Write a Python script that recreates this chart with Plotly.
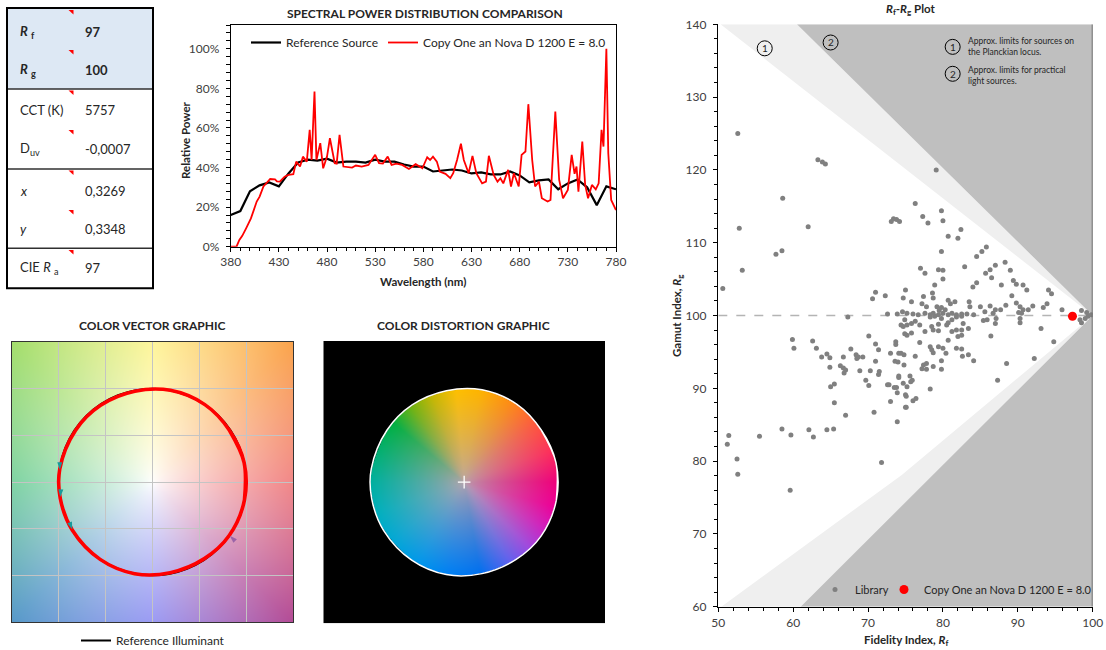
import base64
import struct
import zlib

import numpy as np
import plotly.graph_objects as go

W, H = 1106, 650
FONT = "Lato, 'Open Sans', sans-serif"
TXT = "#262626"

# ----------------------------------------------------------------- data
# Spectral power distribution (percent of max)
ref_wl = list(range(380, 781, 10))
ref_pw = [16, 18, 28, 31, 32.5, 30.5, 37, 42.5, 44, 43.5, 44.5, 42.5, 43, 43,
          42.5, 44, 43, 43, 41.5, 40.5, 40.5, 38, 38.5, 39, 38.5, 37, 37.5,
          36.5, 36.5, 38, 36, 32.5, 33.5, 34, 29, 32, 34, 30, 21, 30.5, 29]

test_wl = [380, 386, 389, 392, 396, 401, 407, 410, 414, 417, 421, 426, 428, 431,
           436, 440, 445, 448, 452, 455, 459, 462, 464, 467, 469, 473, 476, 480,
           483, 486, 488, 490, 493, 497, 506, 510, 516, 523, 530, 534, 538, 543,
           547, 552, 558, 565, 572, 579, 584, 587, 590, 594, 597, 603, 608, 611,
           615, 619, 622, 627, 631, 635, 641, 645, 648, 653, 657, 660, 663, 668,
           671, 674, 679, 682, 686, 689, 693, 696, 700, 703, 709, 712, 717, 721,
           725, 730, 734, 737, 739, 741, 745, 748, 751, 755, 759, 762, 765, 767,
           770, 772, 775, 780]
test_pw = [0, 0, 3.4, 5.5, 9.3, 14.3, 22.8, 25.3, 30.4, 32, 34.2, 34, 33, 32.9,
           35.4, 36.3, 36.6, 43, 40.5, 45.5, 43, 59, 43.8, 78.4, 43.8, 52.3, 39.6,
           45.5, 54.8, 47.2, 42.2, 42, 56.5, 40.5, 40, 41, 40.5, 41.3, 46.4, 42.2,
           42, 45.5, 41.3, 42, 41.3, 39.3, 41.7, 39.6, 45.2, 43.8, 45.5, 43, 38,
           36.8, 34.6, 37.1, 43.8, 52, 43.8, 37.1, 45.9, 37.1, 32, 32.9, 45.9,
           36.3, 32.9, 34.6, 32, 38.8, 30.4, 37.1, 30.4, 46.4, 48.1, 72, 43.8,
           30.4, 32.9, 24.5, 22.8, 23.6, 68.3, 33.7, 24.5, 28.7, 46.4, 36.8, 40.5,
           27.8, 53.1, 31.2, 24.5, 31.2, 29, 32, 59, 50.6, 100, 47.2, 23.6, 18.5]

spd_x_ticks = [380, 430, 480, 530, 580, 630, 680, 730, 780]

# Summary table
table_labels = ["<b><i>R</i> <sub>f</sub></b>", "<b><i>R</i> <sub>g</sub></b>",
                "CCT (K)", "D<sub>uv</sub>", "<i>x</i>", "<i>y</i>",
                "CIE <i>R</i> <sub>a</sub>"]
table_values = ["<b>97</b>", "<b>100</b>", "5757", "-0,0007", "0,3269",
                "0,3348", "97"]

# Colour vector graphic: normalised test-source chroma per hue bin (16 bins)
test_x = [0.978, 0.821, 0.559, 0.191, -0.189, -0.554, -0.821, -0.990,
          -0.985, -0.857, -0.559, -0.191, 0.189, 0.554, 0.819, 0.982]
test_y = [0.208, 0.554, 0.829, 0.982, 0.972, 0.821, 0.554, 0.139,
          -0.174, -0.515, -0.829, -0.982, -0.972, -0.821, -0.574, -0.191]
ref_radius = 1.0
arrow_x = [-0.99, -0.985, -0.857, 0.825]
arrow_y = [0.13, -0.16, -0.51, -0.575]
arrow_angle = [180, 185, 160, 315]
cvg_center = (0.0, 0.0)

# Rf-Rg plot
lib_pts_left = [
    (52.6, 125.0), (63.3, 121.4), (63.9, 121.1), (64.3, 120.8), (58.6, 116.1),
    (52.8, 112.0), (62.0, 112.2), (57.7, 108.4), (58.5, 108.9), (53.2, 106.2),
    (50.6, 103.7), (73.1, 112.9), (73.4, 113.3), (73.8, 113.2), (74.2, 112.9),
    (70.6, 102.3), (71.0, 103.2), (72.3, 102.7), (74.7, 102.4), (75.0, 103.5),
    (67.3, 99.8), (72.6, 100.2), (73.9, 100.2), (74.6, 100.5), (74.9, 99.4),
    (74.4, 98.7), (74.7, 98.5), (74.9, 97.5), (59.9, 96.7), (60.1, 95.5),
    (62.6, 96.5), (63.1, 95.5), (63.8, 94.3), (64.5, 94.7), (64.9, 94.2),
    (64.9, 92.9), (66.3, 93.1), (66.7, 92.8), (67.0, 92.5), (66.7, 94.3),
    (67.7, 95.4), (68.4, 94.6), (68.7, 94.3), (68.5, 94.1), (69.3, 94.3),
    (66.8, 92.1), (68.9, 92.4), (70.1, 97.2), (71.0, 96.1), (71.4, 95.3),
    (71.0, 93.7), (70.3, 92.4), (71.5, 92.3), (71.4, 91.9), (69.7, 91.1),
    (70.1, 90.4), (73.0, 94.8), (73.7, 96.4), (73.7, 96.0), (74.1, 94.8),
    (74.4, 94.8), (73.6, 93.7), (74.0, 93.6), (74.8, 94.6), (74.8, 93.2),
    (74.1, 91.7), (74.1, 91.5), (74.7, 90.7), (72.6, 90.5), (72.8, 90.5),
    (73.5, 90.1), (73.8, 90.1), (73.9, 89.4), (75.0, 89.1), (65.0, 90.2),
    (65.5, 90.6), (65.5, 88.0), (73.0, 88.2), (75.0, 87.4), (67.0, 86.3),
    (70.8, 86.7), (73.9, 85.4), (51.4, 83.5), (51.2, 82.3), (55.5, 83.4),
    (58.5, 84.4), (59.7, 83.6), (62.1, 84.3), (62.7, 83.3), (64.5, 84.3),
    (65.4, 84.4), (52.5, 80.3), (71.8, 79.8), (52.6, 78.2), (59.6, 76.0)]
lib_pts_upper = [
    (79.1, 120.0), (76.3, 115.4), (79.8, 114.4), (77.3, 113.6), (78.0, 112.7),
    (80.0, 113.0), (80.7, 110.9), (82.0, 110.6), (82.4, 111.8), (79.8, 108.8),
    (84.5, 108.1), (85.2, 108.8), (85.8, 109.4), (82.9, 106.7), (77.0, 106.5),
    (79.4, 106.3), (80.0, 106.2), (77.6, 105.8), (86.3, 106.3), (87.0, 106.9),
    (85.7, 105.8), (88.3, 107.3), (89.0, 106.2), (86.5, 105.2), (80.0, 105.0),
    (78.9, 104.2), (84.5, 104.5), (84.0, 103.9), (87.8, 104.2), (89.4, 104.8),
    (89.8, 104.3), (90.7, 104.2), (91.2, 103.5), (94.1, 103.5), (94.5, 103.0),
    (89.2, 102.7), (77.4, 102.6), (78.6, 103.1), (78.7, 102.4), (75.8, 101.9),
    (77.2, 101.6), (77.8, 101.2), (80.7, 102.1), (81.0, 101.6), (81.6, 101.9),
    (79.2, 101.2), (79.8, 101.1), (79.5, 100.7), (80.3, 100.8), (83.5, 101.9),
    (83.6, 101.2), (85.0, 101.2), (86.3, 101.3), (87.0, 100.8), (86.7, 100.3),
    (88.4, 101.4), (87.7, 100.8), (89.8, 101.7), (90.3, 101.2), (90.7, 100.8),
    (91.4, 100.8), (90.1, 100.4), (92.0, 101.3), (93.4, 101.1), (93.9, 101.6),
    (95.9, 100.8), (98.5, 100.7), (99.2, 100.4), (75.2, 100.3), (76.0, 100.2),
    (76.7, 100.1), (77.6, 100.3), (78.3, 100.1), (78.7, 100.3), (79.4, 100.1),
    (80.0, 100.3), (80.7, 100.1), (81.2, 100.3), (81.8, 100.1), (82.5, 100.2),
    (83.2, 100.2), (84.1, 100.1), (85.6, 100.5), (90.5, 100.3), (98.3, 99.4),
    (99.0, 99.6), (99.4, 99.9), (99.8, 100.1)]
lib_pts_lower = [
    (75.8, 98.9), (76.3, 99.2), (75.2, 98.7), (76.9, 98.7), (78.3, 99.8),
    (78.9, 99.9), (79.4, 98.8), (80.5, 98.7), (80.7, 99.0), (79.8, 99.6),
    (81.2, 99.4), (81.8, 99.8), (82.5, 99.9), (82.7, 98.9), (77.6, 97.8),
    (78.5, 98.5), (78.7, 98.0), (79.4, 97.9), (81.2, 97.8), (81.8, 98.0),
    (82.5, 98.0), (83.4, 98.2), (82.0, 97.1), (82.5, 97.3), (80.7, 96.6),
    (85.4, 99.3), (85.9, 99.4), (87.1, 99.6), (87.0, 98.9), (90.3, 99.6),
    (90.3, 99.0), (86.4, 97.2), (93.1, 98.2), (94.8, 96.4), (98.5, 99.0),
    (75.2, 97.3), (75.8, 97.6), (76.9, 96.3), (76.3, 94.4), (78.3, 95.7),
    (78.5, 95.3), (78.7, 94.9), (79.4, 95.7), (80.0, 95.5), (80.4, 94.8),
    (79.8, 93.8), (81.8, 95.5), (82.5, 95.4), (82.6, 94.4), (83.4, 94.6),
    (84.1, 93.8), (88.5, 93.4), (92.2, 94.1), (77.4, 93.2), (77.8, 93.4),
    (77.2, 92.7), (77.8, 92.6), (78.7, 93.0), (79.8, 92.6), (78.3, 89.9),
    (75.6, 91.7), (75.7, 90.9), (75.9, 91.1), (75.2, 90.2), (75.1, 88.9),
    (76.0, 88.3), (76.4, 88.6), (75.1, 87.4), (87.3, 91.1)]
test_rf = [97.3]
test_rg = [99.9]

# Approximate limit lines (Rf, Rg)
lim1_upper = [(50.3, 140.0), (100.0, 100.0)]
lim1_lower = [(50.4, 60.0), (74.5, 78.1), (100.0, 100.0)]
lim2_upper = [(60.5, 140.0), (100.0, 100.0)]
lim2_lower = [(61.0, 60.0), (100.0, 100.0)]
rf_range = [50, 100]
rg_range = [60, 140]

# ------------------------------------------------------------ helpers
def px(x):
    return x / W


def py(y):
    return 1 - y / H


def png_data_uri(rgb):
    rgb = np.ascontiguousarray(np.clip(rgb, 0, 255).astype(np.uint8))
    h, w, _ = rgb.shape
    raw = b"".join(b"\x00" + rgb[i].tobytes() for i in range(h))

    def chunk(tag, data):
        return (struct.pack(">I", len(data)) + tag + data +
                struct.pack(">I", zlib.crc32(tag + data) & 0xFFFFFFFF))

    png = (b"\x89PNG\r\n\x1a\n" +
           chunk(b"IHDR", struct.pack(">IIBBBBB", w, h, 8, 2, 0, 0, 0)) +
           chunk(b"IDAT", zlib.compress(raw, 9)) + chunk(b"IEND", b""))
    return "data:image/png;base64," + base64.b64encode(png).decode("ascii")


def hue_map(theta, angles, colors):
    colors = np.array(colors, dtype=float)
    out = np.zeros(theta.shape + (3,))
    for c in range(3):
        out[..., c] = np.interp(theta, angles, colors[:, c])
    return out


def closed_catmull_rom_outline(xv, yv, steps=24):
    """Rendering helper for the image mask (same curve plotly draws with
    spline smoothing = 1)."""
    P = np.column_stack([xv, yv])
    n = len(P)
    out = []
    tt = np.linspace(0, 1, steps, endpoint=False)[:, None]
    for i in range(n):
        p0, p1, p2, p3 = P[i - 1], P[i], P[(i + 1) % n], P[(i + 2) % n]
        c1 = p1 + (p2 - p0) / 6.0
        c2 = p2 - (p3 - p1) / 6.0
        seg = ((1 - tt) ** 3 * p1 + 3 * (1 - tt) ** 2 * tt * c1 +
               3 * (1 - tt) * tt ** 2 * c2 + tt ** 3 * p2)
        out.append(seg)
    out = np.vstack(out)
    return out[:, 0], out[:, 1]


def inside_polygon(xv, yv, X, Y):
    res = np.zeros(X.shape, dtype=bool)
    n = len(xv)
    j = n - 1
    for i in range(n):
        xi, yi, xj, yj = xv[i], yv[i], xv[j], yv[j]
        cond = ((yi > Y) != (yj > Y)) & (
            X < (xj - xi) * (Y - yi) / (yj - yi + 1e-12) + xi)
        res ^= cond
        j = i
    return res


# ------------------------------------------------------ background images
NPIX = 282
grid = np.linspace(-1.5, 1.5, NPIX)
GX, GY = np.meshgrid(grid, grid[::-1])
GR = np.hypot(GX, GY)
GTH = np.degrees(np.arctan2(GY, GX)) % 360

cvg_ang = [0, 45, 90, 135, 180, 225, 270, 315, 360]
cvg_rgb = [(242, 136, 136), (252, 186, 120), (255, 246, 156), (186, 230, 144),
           (128, 212, 164), (128, 178, 214), (156, 156, 244), (198, 120, 176),
           (242, 136, 136)]
base = hue_map(GTH, cvg_ang, cvg_rgb)
t = ((GR / 1.5) ** 0.8)[..., None]
cvg_img = 255 + (base - 255) * t
cvg_uri = png_data_uri(cvg_img)

dst_ang = [0, 20, 40, 60, 80, 95, 110, 125, 140, 160, 180, 200, 220, 240, 260,
           280, 300, 315, 330, 345, 360]
dst_rgb = [(240, 0, 124), (255, 47, 90), (255, 90, 60), (255, 140, 20),
           (255, 180, 0), (255, 192, 0), (200, 184, 0), (112, 180, 16),
           (0, 176, 64), (0, 176, 112), (0, 176, 160), (0, 176, 192),
           (0, 168, 216), (0, 152, 236), (0, 128, 244), (0, 112, 240),
           (96, 96, 240), (160, 72, 224), (208, 32, 192), (238, 0, 152),
           (240, 0, 124)]
center_rgb = np.array([184, 164, 172], dtype=float)
dbase = hue_map(GTH, dst_ang, dst_rgb)
dt = (np.clip(GR, 0, 1) ** 0.75)[..., None]
dst_col = center_rgb + (dbase - center_rgb) * dt
ox, oy = closed_catmull_rom_outline(test_x, test_y)
mask = inside_polygon(ox, oy, GX, GY)
dst_img = np.where(mask[..., None], dst_col, 0)
dst_uri = png_data_uri(dst_img)

# wrap-around sequence so plotly's spline closes smoothly
loop_x = [test_x[-1]] + test_x + test_x[:2]
loop_y = [test_y[-1]] + test_y + test_y[:2]

# ------------------------------------------------------------ figure
fig = go.Figure()

# SPD
fig.add_trace(go.Scatter(
    x=ref_wl, y=[v / 100 for v in ref_pw], mode="lines",
    line=dict(color="black", width=2.2), name="Reference Source",
    xaxis="x", yaxis="y", legend="legend", hoverinfo="skip"))
fig.add_trace(go.Scatter(
    x=test_wl, y=[v / 100 for v in test_pw], mode="lines",
    line=dict(color="#ff0000", width=1.8), name="Copy One an Nova D 1200 E = 8.0",
    xaxis="x", yaxis="y", legend="legend", hoverinfo="skip"))

# Colour vector graphic
fig.add_trace(go.Scatter(
    x=[None], y=[None], mode="lines", line=dict(color="black", width=2),
    name="Reference Illuminant", xaxis="x2", yaxis="y2", legend="legend2"))
fig.add_trace(go.Scatter(
    x=loop_x, y=loop_y, mode="lines",
    line=dict(color="#ff0000", width=3.6, shape="spline", smoothing=1),
    showlegend=False, xaxis="x2", yaxis="y2", hoverinfo="skip"))
fig.add_trace(go.Scatter(
    x=arrow_x, y=arrow_y, mode="markers",
    marker=dict(symbol="arrow", size=8, angle=arrow_angle,
                color=["#179a9a", "#179a9a", "#179a9a", "#9a64a8"]),
    showlegend=False, xaxis="x2", yaxis="y2", hoverinfo="skip"))

# Colour distortion graphic
fig.add_trace(go.Scatter(
    x=loop_x, y=loop_y, mode="lines",
    line=dict(color="white", width=1.5, shape="spline", smoothing=1),
    showlegend=False, xaxis="x3", yaxis="y3", hoverinfo="skip"))
fig.add_trace(go.Scatter(
    x=[cvg_center[0]], y=[cvg_center[1]], mode="markers",
    marker=dict(symbol="cross-thin", size=9, line=dict(color="white", width=1.3)),
    showlegend=False, xaxis="x3", yaxis="y3", hoverinfo="skip"))

# Rf-Rg regions
def band(inner, outer):
    xs = [p[0] for p in inner] + [p[0] for p in outer[::-1]]
    ys = [p[1] for p in inner] + [p[1] for p in outer[::-1]]
    return xs + [xs[0]], ys + [ys[0]]


lxu, lyu = band(lim1_upper, lim2_upper)
lxl, lyl = band(lim1_lower, lim2_lower)
fig.add_trace(go.Scatter(
    x=lxu + [None] + lxl, y=lyu + [None] + lyl, mode="lines",
    fill="toself", fillcolor="#efefef", line=dict(width=0, color="#efefef"),
    showlegend=False, xaxis="x4", yaxis="y4", hoverinfo="skip"))
dxu, dyu = band(lim2_upper, [(rf_range[1], rg_range[1])])
dxl, dyl = band(lim2_lower, [(rf_range[1], rg_range[0])])
fig.add_trace(go.Scatter(
    x=dxu + [None] + dxl, y=dyu + [None] + dyl, mode="lines",
    fill="toself", fillcolor="#bfbfbf", line=dict(width=0, color="#bfbfbf"),
    showlegend=False, xaxis="x4", yaxis="y4", hoverinfo="skip"))

lib_all = lib_pts_left + lib_pts_upper + lib_pts_lower
rf_lib = [p[0] for p in lib_all]
rg_lib = [p[1] for p in lib_all]
fig.add_trace(go.Scatter(
    x=rf_lib, y=rg_lib, mode="markers", name="Library",
    marker=dict(color="#808080", size=5), xaxis="x4", yaxis="y4",
    legend="legend3", hoverinfo="skip"))
fig.add_trace(go.Scatter(
    x=test_rf, y=test_rg, mode="markers", name="Copy One an Nova D 1200 E = 8.0",
    marker=dict(color="#ff0000", size=9), xaxis="x4", yaxis="y4",
    legend="legend4", hoverinfo="skip"))

# ------------------------------------------------------------ axes
tickfont = dict(family=FONT, size=12, color="#404040")
fig.update_layout(
    xaxis=dict(domain=[px(230.7), px(616)], anchor="y", range=[380, 780],
               tickvals=spd_x_ticks, showline=True, linecolor="black",
               linewidth=1, mirror=True, ticks="outside", ticklen=4,
               tickcolor="black", showgrid=False, zeroline=False,
               tickfont=tickfont,
               minor=dict(dtick=10, tick0=380, ticks="outside", ticklen=3,
                          tickcolor="black", showgrid=False)),
    yaxis=dict(domain=[py(246.7), py(25)], anchor="x", range=[0, 1.12],
               tickvals=[0, 0.2, 0.4, 0.6, 0.8, 1.0], tickformat=".0%",
               showline=True, linecolor="black", linewidth=1, mirror=True,
               ticks="outside", ticklen=4, tickcolor="black", showgrid=False,
               zeroline=False, tickfont=tickfont, ticklabelstandoff=4,
               minor=dict(dtick=0.04, tick0=0, ticks="outside", ticklen=4,
                          tickcolor="black", showgrid=False)),
    xaxis2=dict(domain=[px(12), px(293)], anchor="y2", range=[-1.5, 1.5],
                dtick=0.5, tick0=-1.5, showgrid=True, gridcolor="#c4c4c4",
                gridwidth=1, showticklabels=False, ticks="", zeroline=False,
                showline=True, linecolor="#333333", linewidth=1, mirror=True),
    yaxis2=dict(domain=[py(622), py(342)], anchor="x2", range=[-1.5, 1.5],
                dtick=0.5, tick0=-1.5, showgrid=True, gridcolor="#c4c4c4",
                gridwidth=1, showticklabels=False, ticks="", zeroline=False,
                showline=True, linecolor="#333333", linewidth=1, mirror=True),
    xaxis3=dict(domain=[px(323.3), px(605)], anchor="y3", range=[-1.5, 1.5],
                showgrid=False, showticklabels=False, ticks="", zeroline=False,
                showline=False),
    yaxis3=dict(domain=[py(623.3), py(341)], anchor="x3", range=[-1.5, 1.5],
                showgrid=False, showticklabels=False, ticks="", zeroline=False,
                showline=False),
    xaxis4=dict(domain=[px(718.3), px(1092.7)], anchor="y4", range=rf_range,
                dtick=10, showline=True, linecolor="black", linewidth=1.5,
                ticks="outside", ticklen=4, tickcolor="black", showgrid=False,
                zeroline=False, tickfont=tickfont,
                minor=dict(dtick=2, ticks="outside", ticklen=3,
                           tickcolor="black", showgrid=False)),
    yaxis4=dict(domain=[py(606.7), py(24.3)], anchor="x4", range=rg_range,
                dtick=10, showline=True, linecolor="black", linewidth=1.5,
                ticks="outside", ticklen=4, tickcolor="black", showgrid=False,
                zeroline=False, tickfont=tickfont, ticklabelstandoff=4,
                minor=dict(dtick=2, ticks="outside", ticklen=3,
                           tickcolor="black", showgrid=False)),
)

# ------------------------------------------------------------ legends
legfont = dict(family=FONT, size=12, color=TXT)
legfont_s = dict(family=FONT, size=11, color=TXT)
fig.update_layout(
    legend=dict(x=px(246), y=py(28), xanchor="left", yanchor="top",
                orientation="h", bgcolor="rgba(0,0,0,0)", font=legfont,
                itemwidth=30, tracegroupgap=0),
    legend2=dict(x=px(76), y=py(626), xanchor="left", yanchor="top",
                 orientation="h", bgcolor="rgba(0,0,0,0)", font=legfont,
                 itemwidth=30),
    legend3=dict(x=px(815), y=py(575), xanchor="left", yanchor="top",
                 orientation="h", bgcolor="rgba(0,0,0,0)", font=legfont_s,
                 itemwidth=30),
    legend4=dict(x=px(884), y=py(575), xanchor="left", yanchor="top",
                 orientation="h", bgcolor="rgba(0,0,0,0)", font=legfont_s,
                 itemwidth=30),
)

# ------------------------------------------------------------ images
fig.update_layout(images=[
    dict(source=cvg_uri, xref="x2", yref="y2", x=-1.5, y=1.5, sizex=3, sizey=3,
         sizing="stretch", xanchor="left", yanchor="top", layer="below"),
    dict(source=dst_uri, xref="x3", yref="y3", x=-1.5, y=1.5, sizex=3, sizey=3,
         sizing="stretch", xanchor="left", yanchor="top", layer="below"),
])

# ------------------------------------------------------------ shapes
shapes = []
# table
shapes.append(dict(type="rect", xref="paper", yref="paper", x0=px(7), x1=px(153),
                   y0=py(89), y1=py(8), fillcolor="#dde8f4", line=dict(width=0),
                   layer="below"))
for yy in [89, 169, 248.3]:
    shapes.append(dict(type="line", xref="paper", yref="paper", x0=px(7),
                       x1=px(153), y0=py(yy), y1=py(yy),
                       line=dict(color="#303030", width=1.5)))
shapes.append(dict(type="rect", xref="paper", yref="paper", x0=px(7), x1=px(153),
                   y0=py(288.3), y1=py(8), line=dict(color="black", width=2)))
for yt in [10, 50, 90.5, 130, 170.5, 210, 250]:
    path = "M {} {} L {} {} L {} {} Z".format(
        px(68.5), py(yt), px(73.5), py(yt), px(73.5), py(yt + 4.5))
    shapes.append(dict(type="path", xref="paper", yref="paper", path=path,
                       fillcolor="#ff0000", line=dict(width=0)))
# reference circle (CVG)
shapes.append(dict(type="circle", xref="x2", yref="y2", x0=-ref_radius,
                   x1=ref_radius, y0=-ref_radius, y1=ref_radius,
                   line=dict(color="black", width=2), layer="between"))
# Rf-Rg dashed line and right border
shapes.append(dict(type="line", xref="x4", yref="y4", x0=rf_range[0],
                   x1=rf_range[1], y0=100, y1=100,
                   line=dict(color="#b4b4b4", width=1.3, dash="dash"),
                   layer="between"))
shapes.append(dict(type="line", xref="x4", yref="y4", x0=rf_range[1],
                   x1=rf_range[1], y0=rg_range[0], y1=rg_range[1],
                   line=dict(color="#6e6e6e", width=2)))
# circled numbers
circ_pos = [(56.2, 136.7, "1"), (65.0, 137.5, "2"), (81.3, 136.9, "1"),
            (81.3, 133.2, "2")]
for cx, cy, _ in circ_pos:
    shapes.append(dict(type="circle", xref="x4", yref="y4", xsizemode="pixel",
                       ysizemode="pixel", xanchor=cx, yanchor=cy, x0=-7.5,
                       x1=7.5, y0=-7.5, y1=7.5,
                       line=dict(color="black", width=1)))
fig.update_layout(shapes=shapes)

# ------------------------------------------------------------ annotations
ann = []


def add_text(text, x, y, size=12, xanchor="center", color=TXT, angle=0,
             xref="paper", yref="paper", conv=True):
    ann.append(dict(text=text, x=px(x) if conv else x, y=py(y) if conv else y,
                    xref=xref, yref=yref, xanchor=xanchor, yanchor="middle",
                    showarrow=False, textangle=angle,
                    font=dict(family=FONT, size=size, color=color)))


row_y = [31.7, 70, 110, 149, 190.7, 229.3, 268.3]
for lab, val, yy in zip(table_labels, table_values, row_y):
    add_text(lab, 18, yy, size=13, xanchor="left")
    add_text(val, 83, yy, size=13, xanchor="left")

add_text("<b>SPECTRAL POWER DISTRIBUTION COMPARISON</b>", 425, 14, size=12)
add_text("<b>Relative Power</b>", 185, 140, size=11.5, angle=-90)
add_text("<b>Wavelength (nm)</b>", 423, 281, size=11.5)
add_text("<b>COLOR VECTOR GRAPHIC</b>", 152, 325, size=12)
add_text("<b>COLOR DISTORTION GRAPHIC</b>", 463, 325, size=12)
add_text("<b><i>R</i><sub>f</sub>-<i>R</i><sub>g</sub> Plot</b>", 910, 10, size=11.5)
add_text("<b>Gamut Index, <i>R</i><sub>g</sub></b>", 677, 316, size=11.5, angle=-90)
add_text("<b>Fidelity Index, <i>R</i><sub>f</sub></b>", 906, 640, size=11.5)
for cx, cy, lab in circ_pos:
    add_text(lab, cx, cy, size=10, xref="x4", yref="y4", conv=False)
add_text("Approx. limits for sources on<br>the Planckian locus.", 966, 46,
         size=8.5, xanchor="left")
add_text("Approx. limits for practical<br>light sources.", 966, 75,
         size=8.5, xanchor="left")
for a in ann[-2:]:
    a["align"] = "left"
fig.update_layout(annotations=ann)

fig.update_layout(
    width=W, height=H, margin=dict(l=0, r=0, t=0, b=0, autoexpand=False),
    paper_bgcolor="white", plot_bgcolor="white",
    font=dict(family=FONT, color=TXT), hovermode=False,
)

fig.write_html(
    "out.html",
    config={"displayModeBar": False, "staticPlot": True},
    post_script="document.body.style.margin='0';document.body.style.padding='0';"
                "document.body.style.overflow='hidden';")
